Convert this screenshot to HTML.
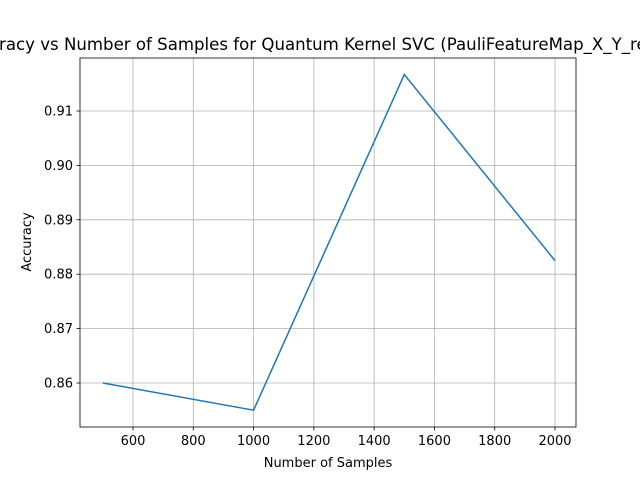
<!DOCTYPE html>
<html><head><meta charset="utf-8"><style>
body{margin:0;background:#fff;width:640px;height:480px;overflow:hidden}
svg text{font-family:"DejaVu Sans","Liberation Sans",sans-serif}
</style></head><body>
<svg id="chart" width="640" height="480" xmlns="http://www.w3.org/2000/svg">
<rect width="640" height="480" fill="#fff"/>
<g id="grid"></g><g id="ticks"></g>
<polyline id="line" fill="none" stroke="#1f77b4" stroke-width="1.5"/>
<rect x="80" y="58" width="496" height="369" fill="none" stroke="#000" stroke-width="0.8"/>
<text x="328" y="50" font-size="16.6" text-anchor="middle">Accuracy vs Number of Samples for Quantum Kernel SVC (PauliFeatureMap_X_Y_reps=2)</text>
<text x="328" y="467" font-size="13" text-anchor="middle">Number of Samples</text>
<text transform="translate(31,242) rotate(-90)" font-size="13" text-anchor="middle">Accuracy</text>
</svg>
<script>
const samples=[500,1000,1500,2000];
const accuracy=[0.860,0.855,0.9167,0.8825];
const xTicks=[600,800,1000,1200,1400,1600,1800,2000];
const yTicks=[0.86,0.87,0.88,0.89,0.90,0.91];
const xs=v=>133+(v-600)*(422/1400);
const ys=v=>383-(v-0.86)*5440;
const NS='http://www.w3.org/2000/svg';
const grid=document.getElementById('grid'),ticks=document.getElementById('ticks');
function mk(tag,attrs,parent){const e=document.createElementNS(NS,tag);for(const k in attrs)e.setAttribute(k,attrs[k]);parent.appendChild(e);return e;}
xTicks.forEach(t=>{const x=xs(t);
const g=mk('line',{x1:x,x2:x,y1:58,y2:427,stroke:'#b0b0b0','stroke-width':0.8},grid);


mk('line',{x1:x,x2:x,y1:427,y2:430.5,stroke:'#000','stroke-width':0.8},ticks);
const l=mk('text',{x:x,y:445,'font-size':13,'text-anchor':'middle'},ticks);l.textContent=t;

});
yTicks.forEach(t=>{const y=ys(t);
const g=mk('line',{x1:80,x2:576,y1:y,y2:y,stroke:'#b0b0b0','stroke-width':0.8},grid);


mk('line',{x1:76.5,x2:80,y1:y,y2:y,stroke:'#000','stroke-width':0.8},ticks);
const l=mk('text',{x:73,y:y+4.5,'font-size':13,'text-anchor':'end'},ticks);l.textContent=t.toFixed(2);

});
document.getElementById('line').setAttribute('points',samples.map((s,i)=>xs(s)+','+ys(accuracy[i])).join(' '));
</script>
</body></html>
